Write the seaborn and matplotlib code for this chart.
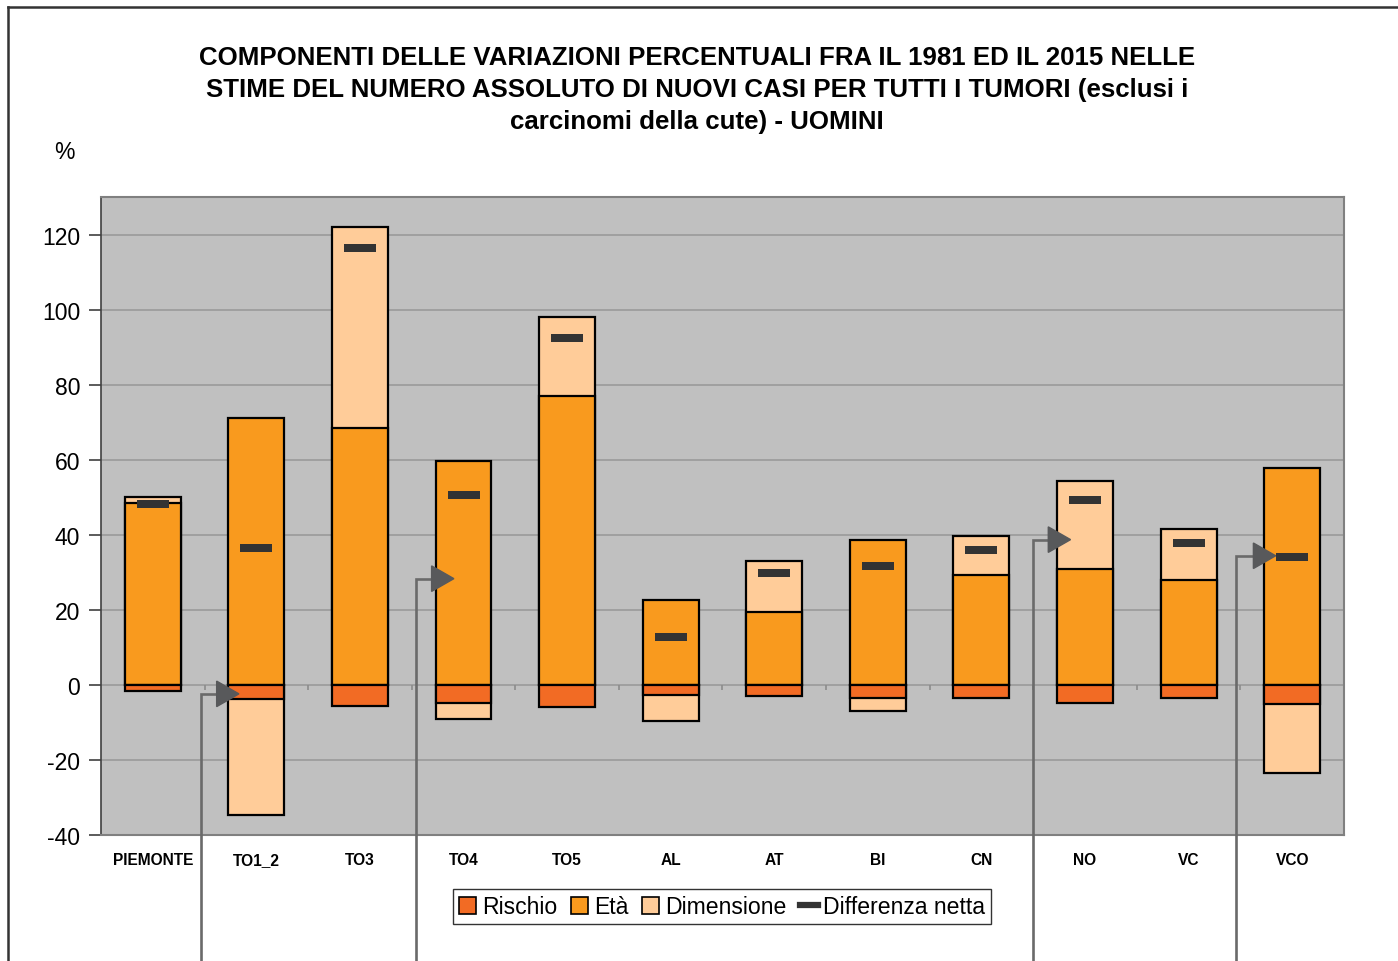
import matplotlib
matplotlib.use("Agg")
import matplotlib.pyplot as plt
from matplotlib.patches import Patch
from matplotlib.lines import Line2D
import numpy as np
import pandas as pd
import seaborn as sns

# values (percent)
areas = ["PIEMONTE", "TO1_2", "TO3", "TO4", "TO5", "AL", "AT", "BI", "CN", "NO", "VC", "VCO"]
rischio = [-1.7, -3.9, -5.6, -4.9, -5.9, -2.8, -2.9, -3.6, -3.6, -4.9, -3.5, -5.1]
eta = [48.5, 71.2, 68.5, 59.7, 77.1, 22.5, 19.5, 38.7, 29.4, 30.8, 27.9, 57.8]
dimensione = [1.5, -30.8, 53.6, -4.2, 21.0, -6.9, 13.4, -3.3, 10.2, 23.4, 13.5, -18.5]
netta = [48.2, 36.5, 116.5, 50.7, 92.3, 12.7, 29.8, 31.6, 36.0, 49.2, 37.8, 34.0]
y_ticks = [-40, -20, 0, 20, 40, 60, 80, 100, 120]

# arrow annotations: (x of vertical stem, x of tip, y of tip)
arrows = [(0.465, 0.832, -2.4), (2.54, 2.907, 28.3), (8.496, 8.86, 38.7), (10.456, 10.84, 34.4)]

C_RISCHIO = "#F26B24"
C_ETA = "#F99A1E"
C_DIM = "#FFCC99"
C_NET = "#333333"


def main() -> None:
    plt.rcParams["font.family"] = ["Liberation Sans", "DejaVu Sans"]

    df = pd.DataFrame({"area": areas, "rischio": rischio, "eta": eta,
                       "dimensione": dimensione, "netta": netta})
    # Dimensione sits on top of Età when positive, below Rischio when negative
    df["dim_end"] = np.where(df["dimensione"] > 0, df["eta"] + df["dimensione"],
                             df["rischio"] + df["dimensione"])
    df["pos"] = np.arange(len(df))

    fig = plt.figure(figsize=(13.98, 9.62), dpi=100)
    ax = fig.add_axes([0.0722, 0.131, 0.8892, 0.6632])
    ax.set_facecolor("#C0C0C0")

    bar_kw = dict(x="area", width=0.54, saturation=1, edgecolor="black",
                  linewidth=1.6, ax=ax, order=areas)
    sns.barplot(data=df, y="dim_end", color=C_DIM, **bar_kw)
    sns.barplot(data=df, y="eta", color=C_ETA, **bar_kw)
    sns.barplot(data=df, y="rischio", color=C_RISCHIO, **bar_kw)

    marker = [(-1, -0.23), (1, -0.23), (1, 0.23), (-1, 0.23), (-1, -0.23)]
    sns.scatterplot(data=df, x="pos", y="netta", marker=marker, s=500,
                    color=C_NET, linewidth=0, ax=ax, zorder=5)

    ax.set_xlim(-0.5, len(areas) - 0.5)
    ax.set_ylim(-40, 130)
    ax.set_yticks(y_ticks)
    ax.set_yticklabels([str(v) for v in y_ticks], fontsize=16.5)
    ax.set_xticks(np.arange(len(areas)))
    ax.set_xticklabels(areas, fontsize=11.2, fontweight="bold")
    ax.tick_params(axis="x", length=0, pad=12.5)
    ax.tick_params(axis="y", length=9, width=1.2, color="#404040", pad=6)
    ax.set_xlabel("")
    ax.set_ylabel("")
    ax.set_axisbelow(True)
    ax.yaxis.grid(True, color="#9A9A9A", linewidth=1.2)
    ax.xaxis.grid(False)
    for side in ["top", "right", "bottom"]:
        ax.spines[side].set_color("#808080")
        ax.spines[side].set_linewidth(1.5)
    ax.spines["left"].set_color("#404040")
    ax.spines["left"].set_linewidth(1.2)

    # small category ticks on the zero line
    ax.vlines(np.arange(len(areas) - 1) + 0.5, -1.3, 0, color="#8C8C8C", lw=1.2, zorder=1)

    # arrows coming from below the chart
    for x_stem, x_tip, y_tip in arrows:
        head_len = 0.215
        ax.plot([x_stem, x_stem, x_tip - head_len], [-90, y_tip, y_tip],
                color="#6A6A6A", lw=1.9, clip_on=False, zorder=6,
                solid_joinstyle="miter")
        ax.fill([x_tip - head_len, x_tip, x_tip - head_len],
                [y_tip - 3.4, y_tip, y_tip + 3.4],
                color="#58595B", clip_on=False, zorder=6)

    fig.text(0.4985, 0.9065,
             "COMPONENTI DELLE VARIAZIONI PERCENTUALI FRA IL 1981 ED IL 2015 NELLE\n"
             "STIME DEL NUMERO ASSOLUTO DI NUOVI CASI PER TUTTI I TUMORI (esclusi i\n"
             "carcinomi della cute) - UOMINI",
             ha="center", va="center", fontsize=18.6, fontweight="bold",
             linespacing=1.42)
    fig.text(0.046, 0.841, "%", ha="center", va="center", fontsize=16.5)

    handles = [Patch(facecolor=C_RISCHIO, edgecolor="black", linewidth=1.2),
               Patch(facecolor=C_ETA, edgecolor="black", linewidth=1.2),
               Patch(facecolor=C_DIM, edgecolor="black", linewidth=1.2),
               Line2D([0], [0], color=C_NET, lw=4.5)]
    leg = fig.legend(handles, ["Rischio", "Età", "Dimensione", "Differenza netta"],
                     loc="center", bbox_to_anchor=(0.5165, 0.0565), ncol=4,
                     fontsize=16.6, frameon=True, fancybox=False, handlelength=0.75,
                     handleheight=0.75, handletextpad=0.25, columnspacing=0.6,
                     borderpad=0.25, borderaxespad=0)
    leg.get_frame().set_edgecolor("black")
    leg.get_frame().set_linewidth(1.0)

    # outer chart frame (cropped at right and bottom)
    fig.add_artist(Line2D([0.006, 0.006], [0.0, 0.992], color="#333333", lw=1.8,
                          transform=fig.transFigure))
    fig.add_artist(Line2D([0.006, 1.0], [0.992, 0.992], color="#333333", lw=1.8,
                          transform=fig.transFigure))

    fig.savefig("out.png", dpi=100, facecolor="white")
    plt.close(fig)


if __name__ == "__main__":
    main()
